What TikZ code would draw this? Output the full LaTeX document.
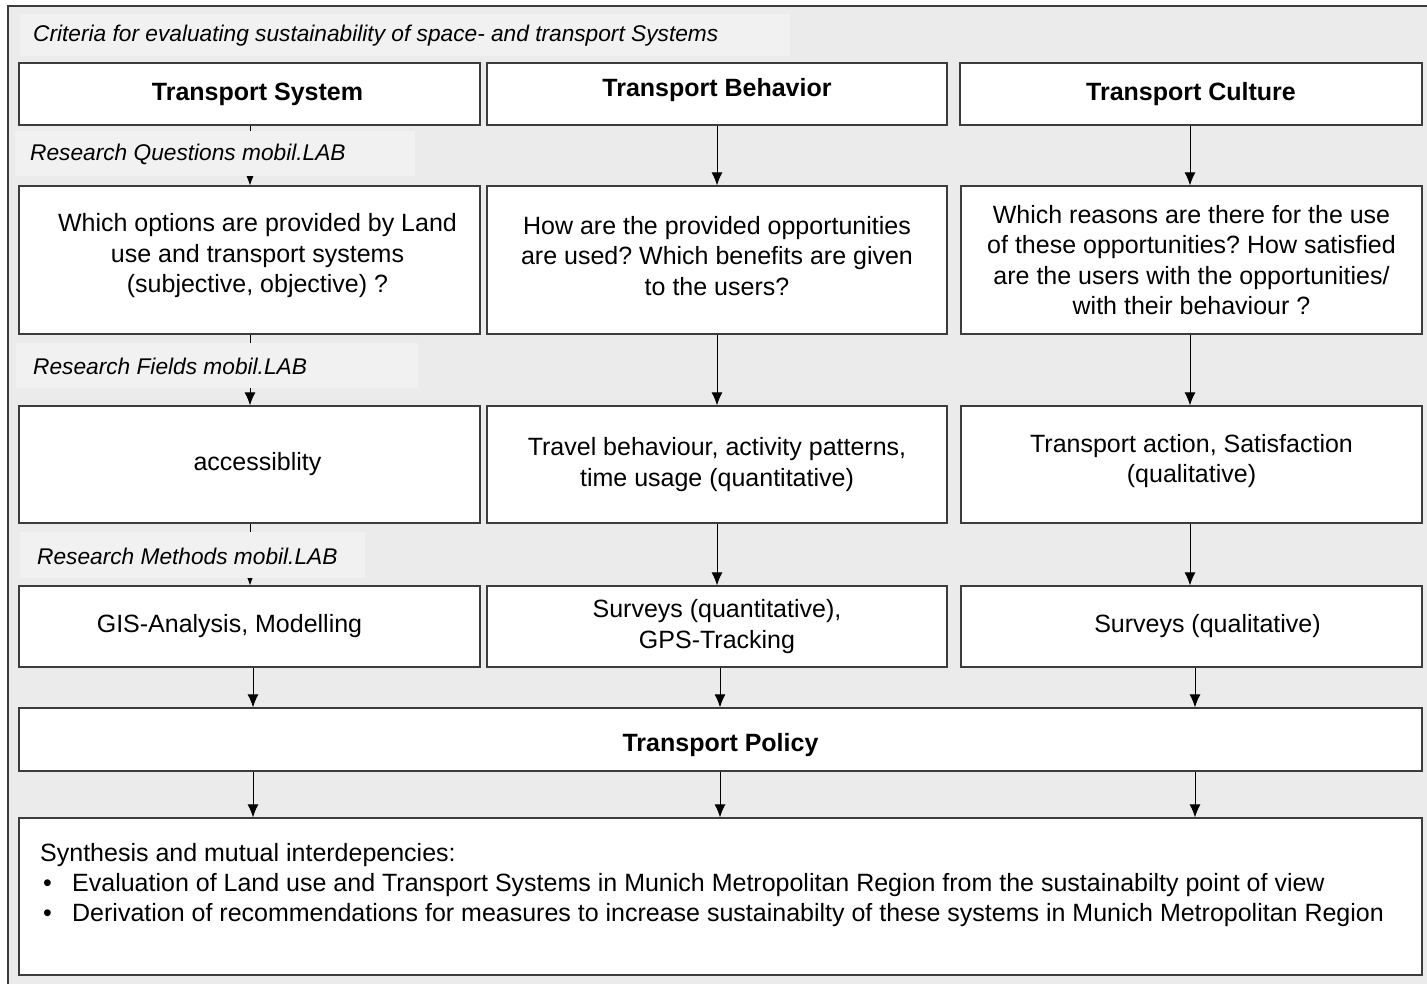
\documentclass[tikz,border=0pt]{standalone}
\usepackage{fontspec}
\setmainfont{Liberation Sans}
\usetikzlibrary{arrows.meta}
\definecolor{bg}{HTML}{EBEBEB}
\definecolor{band}{HTML}{F1F1F1}
\definecolor{edge}{HTML}{3C3C3C}
\frenchspacing
\newcommand{\shiftup}[2]{\raisebox{#1}[\height][\depth]{#2}}
\begin{document}
\begin{tikzpicture}[x=1pt,y=-1pt,
  box/.style={draw=edge, fill=white, line width=1.3pt, inner sep=0pt, align=center,
    font=\fontsize{25}{30.5}\selectfont},
  head/.style={box, font=\fontsize{25}{30}\selectfont\bfseries},
  lbl/.style={anchor=west, inner sep=0pt, font=\fontsize{22.7}{26}\selectfont\itshape},
  arr/.style={-{Latex[length=13pt,width=11pt]}, line width=1pt, draw=black}]

\useasboundingbox (0,0) rectangle (1427,984);
\fill[white] (0,0) rectangle (1427,984);
\fill[bg] (8,6) rectangle (1427,984);
\draw[edge, line width=1.3pt] (1427,6) -- (8,6) -- (8,984);

% title band
\fill[band] (20,14) rectangle (790,56);
\node[lbl] (title) at (33,36) {Criteria for evaluating sustainability of space- and transport Systems};

% row 1
\node[head, minimum width=461pt, minimum height=62pt] (ts) at (249.5,94) {\hspace*{16pt}Transport System};
\node[head, minimum width=460pt, minimum height=62pt] (tb) at (717,94) {\shiftup{4pt}{Transport Behavior}};
\node[head, minimum width=462pt, minimum height=62pt] (tc) at (1191,94) {Transport Culture};

% row 2
\node[box, minimum width=461pt, minimum height=148pt] (q1) at (249.5,260) {\shiftup{4pt}{\begin{tabular}{@{}c@{}}\hspace*{16pt}Which options are provided by Land\\\hspace*{16pt}use and transport systems\\\hspace*{16pt}(subjective, objective) ?\end{tabular}}};
\node[box, minimum width=460pt, minimum height=148pt] (q2) at (717,260) {\shiftup{1.5pt}{\begin{tabular}{@{}c@{}}How are the provided opportunities\\are used? Which benefits are given\\to the users?\end{tabular}}};
\node[box, minimum width=461pt, minimum height=148pt] (q3) at (1191.5,260) {Which reasons are there for the use\\of these opportunities? How satisfied\\are the users with the opportunities/\\with their behaviour ?};

% row 3
\node[box, minimum width=461pt, minimum height=117pt] (f1) at (249.5,464.5) {\hspace*{16pt}accessiblity};
\node[box, minimum width=460pt, minimum height=117pt] (f2) at (717,464.5) {Travel behaviour, activity patterns,\\time usage (quantitative)};
\node[box, minimum width=461pt, minimum height=117pt] (f3) at (1191.5,464.5) {\shiftup{3pt}{\begin{tabular}{@{}c@{}}Transport action, Satisfaction\\(qualitative)\end{tabular}}};

% row 4
\node[box, minimum width=461pt, minimum height=81pt] (m1) at (249.5,626.5) {GIS-Analysis, Modelling\hspace*{40pt}};
\node[box, minimum width=460pt, minimum height=81pt] (m2) at (717,626.5) {Surveys (quantitative),\\GPS-Tracking};
\node[box, minimum width=461pt, minimum height=81pt] (m3) at (1191.5,626.5) {\hspace*{32pt}Surveys (qualitative)};

% policy and synthesis
\node[head, minimum width=1403pt, minimum height=63pt] (pol) at (720.5,739.5) {\shiftup{-6pt}{Transport Policy}};
\node[box, minimum width=1403pt, minimum height=157pt] (syn) at (720.5,896.5) {};
\node[anchor=north west, inner sep=0pt, align=left, font=\fontsize{25}{30}\selectfont] (syntext) at (40,843)
  {Synthesis and mutual interdepencies:\\
   \hspace*{3pt}\makebox[29pt][l]{•}Evaluation of Land use and Transport Systems in Munich Metropolitan Region from the sustainabilty point of view\\
   \hspace*{3pt}\makebox[29pt][l]{•}Derivation of recommendations for measures to increase sustainabilty of these systems in Munich Metropolitan Region};

% arrow columns
\coordinate (xa) at (250,0);
\coordinate (xb) at (717,0);
\coordinate (xc) at (1190,0);
\coordinate (ya) at (253,0);
\coordinate (yb) at (720,0);
\coordinate (yc) at (1195,0);

\draw[arr] (ts.south -| xa) -- (q1.north -| xa);
\draw[arr] (q1.south -| xa) -- (f1.north -| xa);
\draw[arr] (f1.south -| xa) -- (m1.north -| xa);
\draw[arr] (tb.south -| xb) -- (q2.north -| xb);
\draw[arr] (q2.south -| xb) -- (f2.north -| xb);
\draw[arr] (f2.south -| xb) -- (m2.north -| xb);
\draw[arr] (tc.south -| xc) -- (q3.north -| xc);
\draw[arr] (q3.south -| xc) -- (f3.north -| xc);
\draw[arr] (f3.south -| xc) -- (m3.north -| xc);
\draw[arr] (m1.south -| ya) -- (pol.north -| ya);
\draw[arr] (m2.south -| yb) -- (pol.north -| yb);
\draw[arr] (m3.south -| yc) -- (pol.north -| yc);
\draw[arr] (pol.south -| ya) -- (syn.north -| ya);
\draw[arr] (pol.south -| yb) -- (syn.north -| yb);
\draw[arr] (pol.south -| yc) -- (syn.north -| yc);

% label bands (cover the first column's arrows)
\fill[band] (15,131) rectangle (415,176);
\node[lbl] (lq) at (30,154) {Research Questions mobil.LAB};
\fill[band] (16,343) rectangle (418,388);
\node[lbl] (lf) at (33,366) {Research Fields mobil.LAB};
\fill[band] (20,532) rectangle (365,578);
\node[lbl] (lm) at (37,556) {Research Methods mobil.LAB};
\end{tikzpicture}
\end{document}
